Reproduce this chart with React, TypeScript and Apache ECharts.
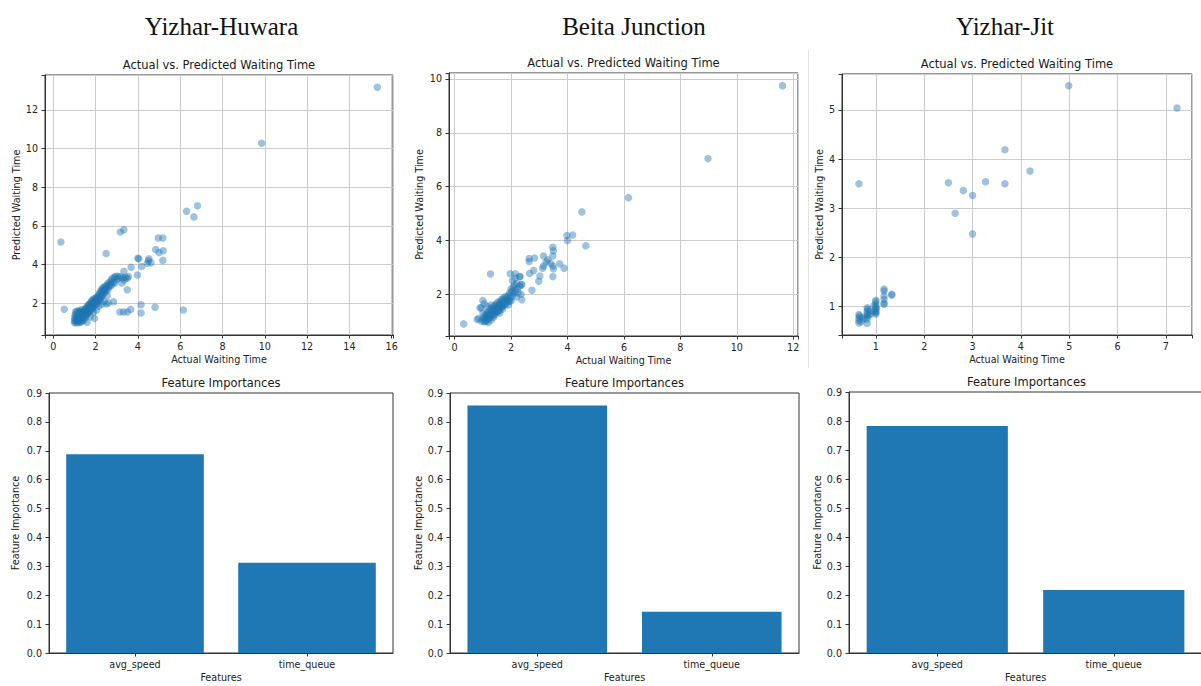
import React, { useEffect, useRef } from "react";
import * as echarts from "echarts";

// ---------------- data ----------------
const stationNames = ["Yizhar-Huwara", "Beita Junction", "Yizhar-Jit"];
const featureNames = ["avg_speed", "time_queue"];

const huwaraImportance = [0.688, 0.312];
const beitaImportance = [0.857, 0.143];
const jitImportance = [0.783, 0.217];

// [actual, predicted]
const huwaraPoints: [number, number][] = [
  [15.32, 13.17], [9.85, 10.28], [6.82, 7.05], [6.3, 6.76], [6.65, 6.47], [3.34, 5.81], [3.17, 5.69],
  [0.36, 5.17], [2.5, 4.57], [4.96, 5.38], [5.18, 5.38], [4.84, 4.78], [5.0, 4.63], [5.2, 4.72],
  [5.18, 4.22], [4.0, 4.33], [4.04, 4.3], [4.52, 4.3], [4.5, 4.2], [4.45, 4.07], [4.62, 4.1],
  [4.18, 3.9], [3.68, 3.86], [3.98, 3.46], [3.34, 3.66], [3.5, 2.7], [2.85, 2.08], [2.5, 1.97],
  [0.52, 1.69], [3.15, 1.55], [3.32, 1.55], [3.5, 1.55], [3.66, 1.68], [4.15, 1.93], [4.15, 1.5],
  [4.81, 1.79], [6.15, 1.65],
  [1.0, 1.0], [1.0, 1.12], [1.02, 1.25], [1.03, 1.4], [1.05, 1.55], [1.05, 1.05], [1.08, 1.18],
  [1.08, 1.32], [1.1, 1.0], [1.1, 1.45], [1.12, 1.1], [1.12, 1.6], [1.15, 1.22], [1.15, 1.35],
  [1.18, 1.05], [1.18, 1.5], [1.2, 1.15], [1.2, 1.28], [1.2, 1.42], [1.22, 1.0], [1.22, 1.62],
  [1.25, 1.1], [1.25, 1.35], [1.25, 1.52], [1.28, 1.22], [1.28, 1.45], [1.3, 1.02], [1.3, 1.3],
  [1.3, 1.58], [1.32, 1.15], [1.32, 1.4], [1.35, 1.25], [1.35, 1.5], [1.35, 1.68], [1.38, 1.08],
  [1.38, 1.38], [1.4, 1.2], [1.4, 1.55], [1.42, 1.3], [1.42, 1.45], [1.45, 1.12], [1.45, 1.62],
  [1.48, 1.38], [1.48, 1.52], [1.5, 1.25], [1.5, 1.7], [1.52, 1.45], [1.52, 1.6], [1.55, 1.35],
  [1.55, 1.75], [1.58, 1.5], [1.58, 1.65], [1.6, 1.42], [1.6, 1.82], [1.62, 1.58], [1.62, 1.72],
  [1.65, 1.48], [1.65, 1.9], [1.68, 1.65], [1.68, 1.78], [1.7, 1.55], [1.7, 1.95], [1.72, 1.7],
  [1.72, 1.85], [1.75, 1.62], [1.75, 2.0], [1.78, 1.78], [1.78, 1.92], [1.8, 1.68], [1.8, 2.1],
  [1.82, 1.85], [1.82, 2.0], [1.85, 1.75], [1.85, 2.15], [1.88, 1.92], [1.88, 2.05], [1.9, 1.8],
  [1.9, 2.22], [1.92, 2.0], [1.95, 2.12], [1.95, 1.88], [1.98, 2.25], [2.0, 2.05], [2.0, 1.95],
  [2.02, 2.18], [2.05, 2.3], [2.05, 2.08], [2.08, 2.2], [2.1, 2.35], [2.1, 2.0], [2.12, 2.25],
  [2.15, 2.45], [2.15, 2.12], [2.18, 2.3], [2.2, 2.55], [2.2, 2.2], [2.22, 2.4], [2.25, 2.65],
  [2.25, 2.28], [2.28, 2.5], [2.3, 2.72], [2.3, 2.35], [2.32, 2.6], [2.35, 2.8], [2.35, 2.45],
  [2.38, 2.68], [2.4, 2.55], [2.42, 2.85], [2.45, 2.7], [2.48, 2.6], [2.5, 2.9], [2.52, 2.78],
  [2.55, 2.95], [2.58, 2.7], [2.6, 3.05], [2.62, 2.85], [2.65, 2.95], [2.7, 3.1], [2.72, 2.9],
  [2.75, 3.2], [2.78, 3.0], [2.8, 3.3], [2.85, 3.1], [2.9, 3.35], [2.92, 3.05], [2.95, 3.4],
  [3.0, 3.25], [3.05, 3.4], [3.1, 3.3], [3.18, 3.38], [3.25, 3.05], [3.3, 3.32], [3.35, 3.2],
  [3.42, 3.35], [3.5, 3.3], [3.55, 3.38], [2.4, 2.1], [2.6, 2.02], [2.3, 1.95], [1.95, 1.22],
  [1.6, 1.02], [1.75, 1.3], [2.05, 1.65], [2.15, 1.85], [1.9, 1.55], [2.55, 2.4],
];

const beitaPoints: [number, number][] = [
  [11.62, 9.75], [8.98, 7.04], [6.16, 5.59], [4.51, 5.06], [3.98, 4.18], [4.18, 4.2], [4.0, 4.0],
  [4.65, 3.8], [3.48, 3.75], [3.5, 3.62], [3.48, 3.42], [3.15, 3.42], [2.64, 3.33], [2.64, 3.22],
  [2.83, 3.35], [3.3, 3.28], [3.12, 2.97], [3.15, 3.05], [3.48, 3.05], [3.5, 2.95], [3.72, 3.13],
  [3.88, 2.97], [2.8, 2.88], [2.66, 2.77], [3.02, 2.68], [2.98, 2.48], [3.48, 2.66], [2.74, 2.15],
  [1.27, 2.75], [1.97, 2.76], [2.15, 2.76], [2.36, 2.36], [2.38, 1.8], [2.32, 2.66], [0.32, 0.9],
  [1.0, 1.77], [0.94, 1.5], [0.8, 1.06], [3.25, 3.2], [3.4, 3.15],
  [0.95, 1.0], [1.0, 1.05], [1.02, 1.15], [1.05, 0.98], [1.08, 1.1], [1.1, 1.25], [1.1, 1.02],
  [1.12, 1.18], [1.15, 1.3], [1.15, 1.08], [1.18, 1.22], [1.2, 0.95], [1.2, 1.35], [1.22, 1.12],
  [1.25, 1.28], [1.25, 1.45], [1.28, 1.18], [1.3, 1.38], [1.3, 1.05], [1.32, 1.5], [1.35, 1.25],
  [1.35, 1.42], [1.38, 1.15], [1.4, 1.55], [1.4, 1.35], [1.42, 1.48], [1.45, 1.28], [1.45, 1.62],
  [1.48, 1.42], [1.5, 1.55], [1.5, 1.35], [1.52, 1.7], [1.55, 1.48], [1.55, 1.6], [1.58, 1.4],
  [1.6, 1.72], [1.6, 1.55], [1.62, 1.65], [1.65, 1.5], [1.65, 1.8], [1.68, 1.62], [1.7, 1.75],
  [1.7, 1.55], [1.72, 1.85], [1.75, 1.68], [1.78, 1.8], [1.8, 1.62], [1.8, 1.92], [1.82, 1.75],
  [1.85, 1.85], [1.88, 1.7], [1.9, 1.95], [1.92, 1.8], [1.95, 2.05], [1.98, 1.88], [2.0, 2.2],
  [2.0, 1.75], [2.02, 2.1], [2.05, 1.95], [2.08, 2.25], [2.1, 2.05], [2.12, 2.35], [2.15, 2.15],
  [2.18, 1.9], [2.2, 2.4], [2.22, 2.2], [2.25, 2.05], [2.3, 2.3], [2.35, 2.0], [2.38, 2.35],
  [0.9, 1.5], [1.0, 1.3], [0.85, 1.1], [1.05, 1.65], [1.15, 1.55], [1.3, 1.6], [1.6, 1.3],
  [1.7, 1.45], [1.9, 1.6], [2.05, 2.5], [2.15, 2.6], [2.3, 2.65], [1.12, 1.0], [1.25, 1.15],
  [1.4, 1.22], [1.55, 1.38], [1.75, 1.6], [1.95, 1.75],
];

const jitPoints: [number, number][] = [
  [4.99, 5.49], [7.23, 5.04], [3.67, 4.19], [4.19, 3.76], [0.65, 3.5], [2.5, 3.52], [3.27, 3.54],
  [3.67, 3.5], [2.81, 3.36], [3.0, 3.26], [2.64, 2.9], [3.0, 2.48],
  [0.65, 0.67], [0.65, 0.72], [0.65, 0.77], [0.66, 0.81], [0.65, 0.84], [0.7, 0.7], [0.72, 0.78],
  [0.82, 0.66], [0.82, 0.75], [0.82, 0.8], [0.82, 0.85], [0.82, 0.9], [0.83, 0.95], [0.82, 0.98],
  [0.85, 0.82], [0.86, 0.92], [0.95, 0.9], [0.96, 1.02], [1.0, 0.85], [1.0, 0.9], [1.0, 0.95],
  [1.0, 1.0], [1.0, 1.05], [1.0, 1.1], [1.0, 0.88], [1.01, 0.97], [1.0, 1.13], [1.17, 1.05],
  [1.17, 1.07], [1.17, 1.15], [1.17, 1.22], [1.17, 1.32], [1.17, 1.36], [1.33, 1.24], [1.33, 1.25],
  [0.75, 0.75], [0.9, 0.85],
];

// axis ranges [min, max] and tick steps
const scatterXRanges: [number, number][] = [[-0.39, 16.06], [-0.2, 12.17], [0.3, 7.54]];
const scatterYRanges: [number, number][] = [[0.36, 13.81], [0.45, 10.22], [0.425, 5.73]];
const scatterXSteps = [2, 2, 1];
const scatterYSteps = [2, 2, 1];
const importanceMax = 0.9;
const importanceStep = 0.1;

// ---------------- styles / layout ----------------
const FONT = "'DejaVu Sans', Verdana, sans-serif";
const TEXT = "#222222";
const FRAME = "#333333";
const BLUE = "#1f77b4";
const LABEL_SIZE = 9.6;
const TITLE_SIZE = 11.5;

const scatterGrids = [
  { left: 45, top: 75, width: 348, height: 260 },
  { left: 449, top: 73, width: 349, height: 263 },
  { left: 842, top: 74, width: 350, height: 261 },
];
const barGrids = [
  { left: 49, top: 393, width: 344, height: 260 },
  { left: 450, top: 393, width: 349, height: 260 },
  { left: 849, top: 392, width: 353, height: 261 },
];
const scatterYNameGap = [22, 25, 17.5];
const barYNameGap = [29, 24.5, 23.5];
const headerX = [221.5, 634, 1005];

function tickFormatter(step: number) {
  return (v: number) => {
    const k = v / step;
    if (Math.abs(k - Math.round(k)) > 1e-6) return "";
    return String(Math.round(v));
  };
}

function baseAxisStyle() {
  return {
    axisLine: { show: true, onZero: false, lineStyle: { color: FRAME, width: 1 } },
    axisTick: { show: true, inside: false, length: 3.5, lineStyle: { color: FRAME, width: 1 } },
    nameTextStyle: { fontFamily: FONT, fontSize: LABEL_SIZE, color: TEXT },
  };
}

export default function App() {
  const ref = useRef<HTMLDivElement>(null);

  useEffect(() => {
    if (!ref.current) return;
    document.body.style.margin = "0";
    const chart = echarts.init(ref.current, undefined, { renderer: "svg" });

    const allPoints = [huwaraPoints, beitaPoints, jitPoints];
    const allImportance = [huwaraImportance, beitaImportance, jitImportance];

    const grid: any[] = [];
    const xAxis: any[] = [];
    const yAxis: any[] = [];
    const series: any[] = [];
    const graphic: any[] = [];

    // faint panel separator from the composite image
    graphic.push({
      type: "line",
      shape: { x1: 808.5, y1: 50, x2: 808.5, y2: 368 },
      style: { stroke: "#e4e4e4", lineWidth: 1 },
      silent: true,
    });

    // scatter panels
    scatterGrids.forEach((g, i) => {
      grid.push({
        ...g,
        show: true,
        borderColor: FRAME,
        borderWidth: 1,
        backgroundColor: "transparent",
        containLabel: false,
        outerBoundsMode: "none",
      });
      xAxis.push({
        type: "value",
        gridIndex: i,
        min: scatterXRanges[i][0],
        max: scatterXRanges[i][1],
        minInterval: scatterXSteps[i],
        maxInterval: scatterXSteps[i],
        name: "Actual Waiting Time",
        nameLocation: "middle",
        nameGap: 19.5,
        ...baseAxisStyle(),
        axisLabel: {
          margin: 6,
          fontFamily: FONT,
          fontSize: LABEL_SIZE,
          color: TEXT,
          formatter: tickFormatter(scatterXSteps[i]),
        },
        splitLine: { show: true, lineStyle: { color: "#cccccc", width: 1 } },
      });
      yAxis.push({
        type: "value",
        gridIndex: i,
        min: scatterYRanges[i][0],
        max: scatterYRanges[i][1],
        minInterval: scatterYSteps[i],
        maxInterval: scatterYSteps[i],
        name: "Predicted Waiting Time",
        nameLocation: "middle",
        nameGap: scatterYNameGap[i],
        ...baseAxisStyle(),
        axisLabel: {
          margin: 7,
          fontFamily: FONT,
          fontSize: LABEL_SIZE,
          color: TEXT,
          formatter: tickFormatter(scatterYSteps[i]),
        },
        splitLine: { show: true, lineStyle: { color: "#cccccc", width: 1 } },
      });
      series.push({
        type: "scatter",
        xAxisIndex: i,
        yAxisIndex: i,
        data: allPoints[i],
        symbol: "circle",
        symbolSize: 7.5,
        itemStyle: { color: "rgba(31,119,180,0.55)", borderWidth: 0 },
        emphasis: { disabled: true },
      });
      graphic.push({
        type: "text",
        x: g.left + g.width / 2,
        y: g.top - 10,
        style: {
          text: "Actual vs. Predicted Waiting Time",
          font: `${TITLE_SIZE}px ${FONT}`,
          fill: "#1a1a1a",
          align: "center",
          verticalAlign: "middle",
        },
      });
    });

    // bar panels
    barGrids.forEach((g, j) => {
      const i = j + 3;
      grid.push({
        ...g,
        show: true,
        borderColor: FRAME,
        borderWidth: 1,
        backgroundColor: "transparent",
        containLabel: false,
        outerBoundsMode: "none",
      });
      xAxis.push({
        type: "category",
        gridIndex: i,
        data: featureNames,
        name: "Features",
        nameLocation: "middle",
        nameGap: 19.5,
        ...baseAxisStyle(),
        axisTick: { show: true, alignWithLabel: true, length: 3.5, lineStyle: { color: FRAME, width: 1 } },
        axisLabel: { margin: 6, fontFamily: FONT, fontSize: LABEL_SIZE, color: TEXT },
        splitLine: { show: false },
      });
      yAxis.push({
        type: "value",
        gridIndex: i,
        min: 0,
        max: importanceMax,
        interval: importanceStep,
        name: "Feature Importance",
        nameLocation: "middle",
        nameGap: barYNameGap[j],
        ...baseAxisStyle(),
        axisLabel: {
          margin: 7,
          fontFamily: FONT,
          fontSize: LABEL_SIZE,
          color: TEXT,
          formatter: (v: number) => v.toFixed(1),
        },
        splitLine: { show: false },
      });
      series.push({
        type: "bar",
        xAxisIndex: i,
        yAxisIndex: i,
        data: allImportance[j],
        barCategoryGap: "20%",
        itemStyle: { color: BLUE },
        emphasis: { disabled: true },
      });
      graphic.push({
        type: "text",
        x: g.left + g.width / 2 + (j === 2 ? 1 : 0),
        y: g.top - 10,
        style: {
          text: "Feature Importances",
          font: `${TITLE_SIZE}px ${FONT}`,
          fill: "#1a1a1a",
          align: "center",
          verticalAlign: "middle",
        },
      });
    });

    // station headers
    stationNames.forEach((name, i) => {
      graphic.push({
        type: "text",
        x: headerX[i],
        y: 26,
        style: {
          text: name,
          font: "25px 'Liberation Serif', 'Times New Roman', serif",
          fill: "#111111",
          align: "center",
          verticalAlign: "middle",
        },
      });
    });

    chart.setOption({
      animation: false,
      backgroundColor: "#ffffff",
      grid,
      xAxis,
      yAxis,
      series,
      graphic,
      tooltip: { show: false },
    });

    return () => chart.dispose();
  }, []);

  return (
    <div
      ref={ref}
      style={{ position: "absolute", left: 0, top: 0, width: 1201, height: 686, background: "#fff" }}
    />
  );
}
